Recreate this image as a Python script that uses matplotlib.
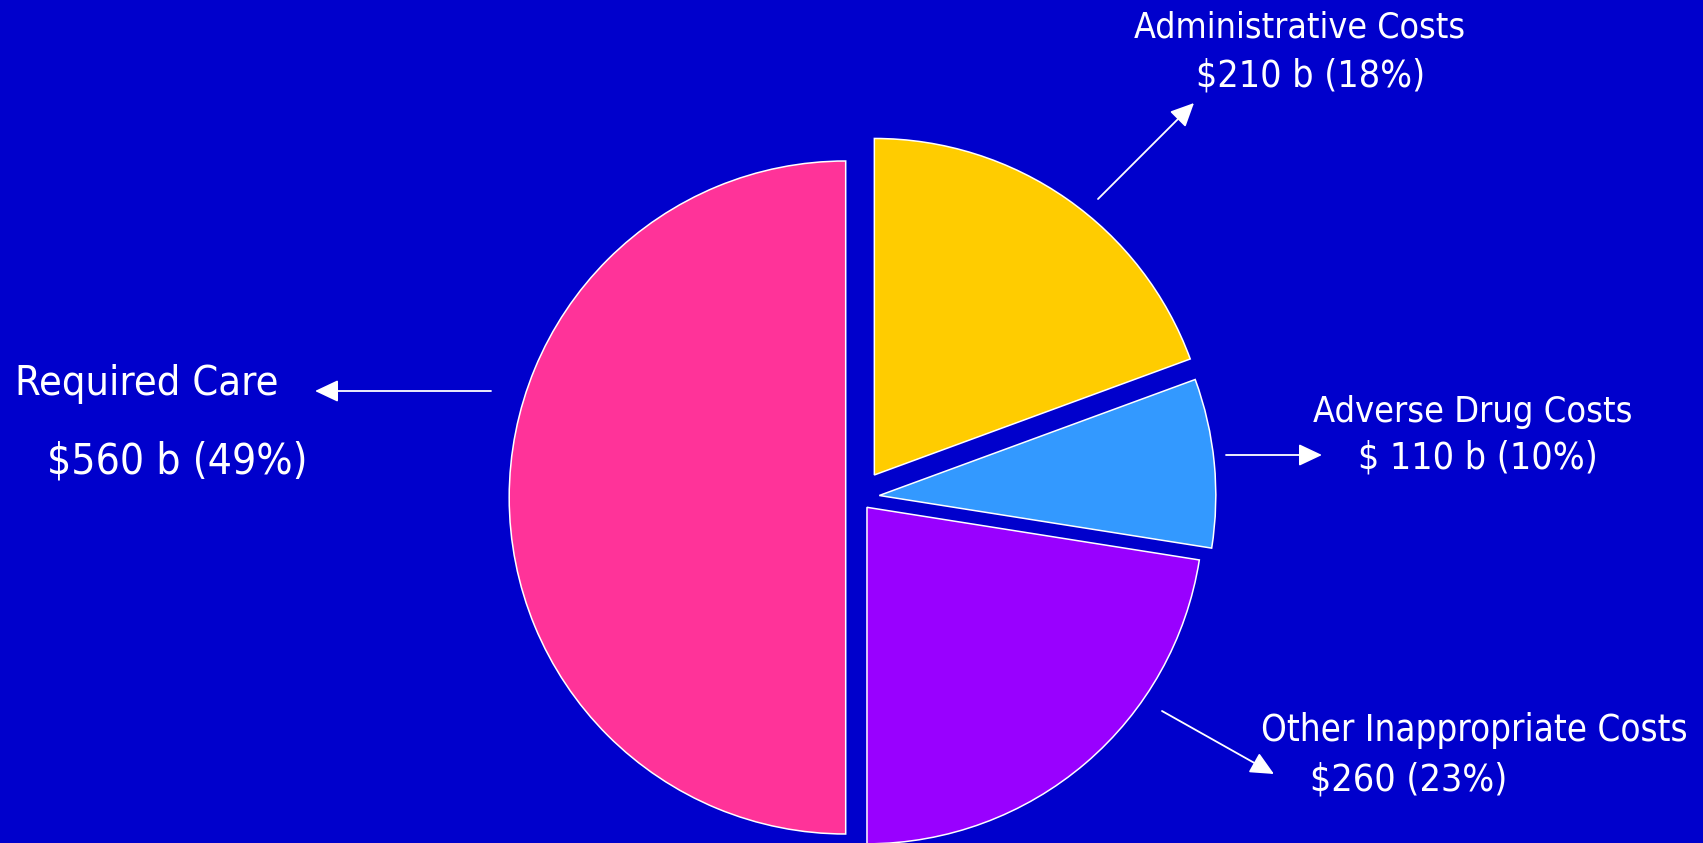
import matplotlib
matplotlib.use("Agg")
import matplotlib.pyplot as plt

# ---------------- data ----------------
categories = ["Administrative Costs", "Adverse Drug Costs",
              "Other Inappropriate Costs", "Required Care"]
# slice shares (%)
slice_share = [19.4, 8.1, 22.5, 50.0]
# amounts / shares written in the labels
label_amounts = ["$210 b (18%)", "$ 110 b (10%)", "$260 (23%)", "$560 b (49%)"]

# ---------------- style ----------------
W, H = 1703, 843
BG = "#0000CC"
colors = ["#FFCC00", "#3399FF", "#9900FF", "#FF3399"]
explode_px = [27.5, 20.8, 12.9, 12.9]

def Y(y):
    return H - y

fig = plt.figure(figsize=(W / 100, H / 100), dpi=100, facecolor=BG)
ax = fig.add_axes([0, 0, 1, 1])
ax.set_facecolor(BG)

ax.pie(slice_share, colors=colors, explode=explode_px, startangle=90,
       counterclock=False, radius=336.5, center=(858.6, Y(497.5)),
       wedgeprops=dict(edgecolor="white", linewidth=1.1), frame=True)

ax.set_xlim(0, W)
ax.set_ylim(0, H)
ax.set_aspect("equal")
ax.axis("off")

# ---------------- labels ----------------
# (text, left x, baseline y, target width) in pixel coordinates
label_specs = [
    (categories[3], 15, 395, 263),
    (label_amounts[3], 47, 474, 260),
    (categories[0], 1134, 38, 331),
    (label_amounts[0], 1196, 87, 229),
    (categories[1], 1313, 422, 320),
    (label_amounts[1], 1358, 469, 240),
    (categories[2], 1261, 741, 426),
    (label_amounts[2], 1310, 790, 197),
]

renderer = fig.canvas.get_renderer()
for txt, x, y, tw in label_specs:
    t = ax.text(x, Y(y), txt, color="white", ha="left", va="baseline",
                fontsize=20, family="DejaVu Sans", fontstretch="condensed")
    w = t.get_window_extent(renderer=renderer).width
    t.set_fontsize(20 * tw / w)

# ---------------- arrows ----------------
arrows = [
    ((491, 391), (315, 391)),
    ((1098, 199), (1194, 103)),
    ((1226, 455), (1322, 455)),
    ((1162, 711), (1274, 774)),
]
for (x0, y0), (x1, y1) in arrows:
    ax.annotate("", xy=(x1, Y(y1)), xytext=(x0, Y(y0)),
                arrowprops=dict(arrowstyle="-|>,head_length=1.44,head_width=0.68",
                                mutation_scale=10, color="white", lw=1.3,
                                shrinkA=0, shrinkB=0))

fig.savefig("out.png", dpi=100, facecolor=BG)
